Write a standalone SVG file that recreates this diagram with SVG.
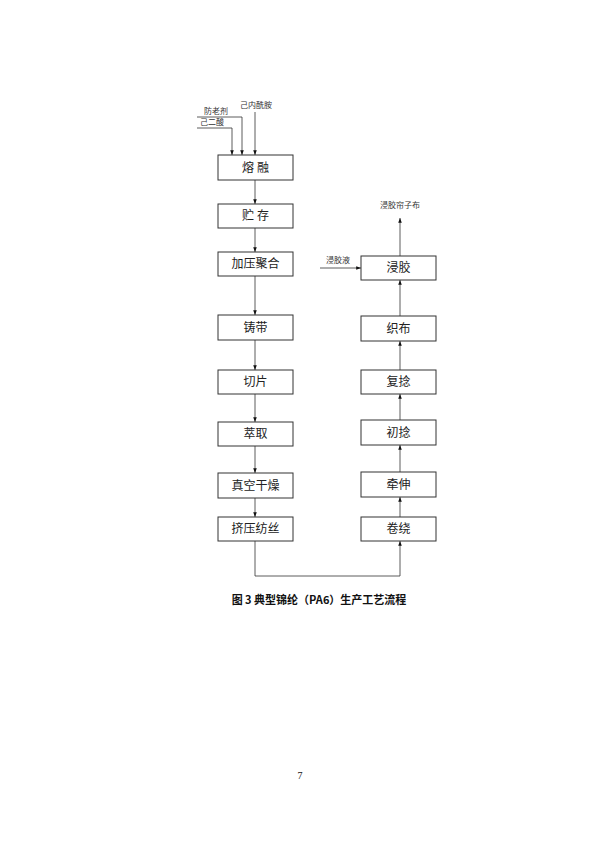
<svg xmlns="http://www.w3.org/2000/svg" width="600" height="848" viewBox="0 0 600 848">
<style>
.b{fill:#fff;stroke:#333;stroke-width:1}
.t{font-family:"Liberation Serif","Noto Sans CJK SC",serif;font-size:12px;text-anchor:middle;fill:#222}
.s{font-family:"Liberation Serif","Noto Sans CJK SC",serif;font-size:8px;text-anchor:middle;fill:#333}
.l{fill:none;stroke:#333;stroke-width:0.8;marker-end:url(#a)}
</style>
<defs><marker id="a" viewBox="0 0 8 8" refX="8" refY="4" markerWidth="6" markerHeight="6" orient="auto"><path d="M0,1L8,4L0,7z" fill="#111"/></marker></defs>
<rect width="600" height="848" fill="#fff"/>
<g id="connectors">
<path class="l" d="M197,128H232V155"/>
<path class="l" d="M197,117H242V155"/>
<path class="l" d="M255,112V155"/>
<path class="l" d="M255,180V204"/>
<path class="l" d="M255,228V252"/>
<path class="l" d="M255,276V315"/>
<path class="l" d="M255,340V370"/>
<path class="l" d="M255,394V422"/>
<path class="l" d="M255,446V473"/>
<path class="l" d="M255,498V517"/>
<path class="l" d="M255,541V576H400V541"/>
<path class="l" d="M400,517V497"/>
<path class="l" d="M400,472V445"/>
<path class="l" d="M400,420V394"/>
<path class="l" d="M400,370V341"/>
<path class="l" d="M400,316V280"/>
<path class="l" d="M400,256V218"/>
<path class="l" d="M320,268H361"/>
</g>
<g id="labels">
<text class="s" x="216" y="114">防老剂</text>
<text class="s" x="212" y="125">己二酸</text>
<text class="s" x="256" y="108">己内酰胺</text>
<text class="s" x="400" y="208">浸胶帘子布</text>
<text class="s" x="338" y="263">浸胶液</text>
</g>
<g id="n1"><rect class="b" x="218" y="155" width="75" height="25"/><text class="t" x="255.5" y="172">熔 融</text></g>
<g id="n2"><rect class="b" x="218" y="204" width="75" height="24"/><text class="t" x="255.5" y="220">贮 存</text></g>
<g id="n3"><rect class="b" x="218" y="252" width="75" height="24"/><text class="t" x="255.5" y="268">加压聚合</text></g>
<g id="n4"><rect class="b" x="218" y="315" width="75" height="25"/><text class="t" x="255.5" y="332">铸带</text></g>
<g id="n5"><rect class="b" x="218" y="370" width="75" height="24"/><text class="t" x="255.5" y="386">切片</text></g>
<g id="n6"><rect class="b" x="218" y="422" width="75" height="24"/><text class="t" x="255.5" y="438">萃取</text></g>
<g id="n7"><rect class="b" x="218" y="473" width="75" height="25"/><text class="t" x="255.5" y="490">真空干燥</text></g>
<g id="n8"><rect class="b" x="218" y="517" width="75" height="24"/><text class="t" x="255.5" y="533">挤压纺丝</text></g>
<g id="n9"><rect class="b" x="361" y="256" width="75" height="24"/><text class="t" x="398.5" y="272">浸胶</text></g>
<g id="n10"><rect class="b" x="361" y="316" width="75" height="25"/><text class="t" x="398.5" y="333">织布</text></g>
<g id="n11"><rect class="b" x="361" y="370" width="75" height="24"/><text class="t" x="398.5" y="386">复捻</text></g>
<g id="n12"><rect class="b" x="361" y="420" width="75" height="25"/><text class="t" x="398.5" y="437">初捻</text></g>
<g id="n13"><rect class="b" x="361" y="472" width="75" height="25"/><text class="t" x="398.5" y="489">牵伸</text></g>
<g id="n14"><rect class="b" x="361" y="517" width="75" height="24"/><text class="t" x="398.5" y="533">卷绕</text></g>
<text x="319" y="604" font-family="'Noto Sans CJK SC',sans-serif" font-size="11" font-weight="bold" text-anchor="middle" fill="#111">图 3 典型锦纶（PA6）生产工艺流程</text>
<text x="300" y="779" font-family="'Liberation Serif',serif" font-size="10" text-anchor="middle" fill="#111">7</text>
</svg>
